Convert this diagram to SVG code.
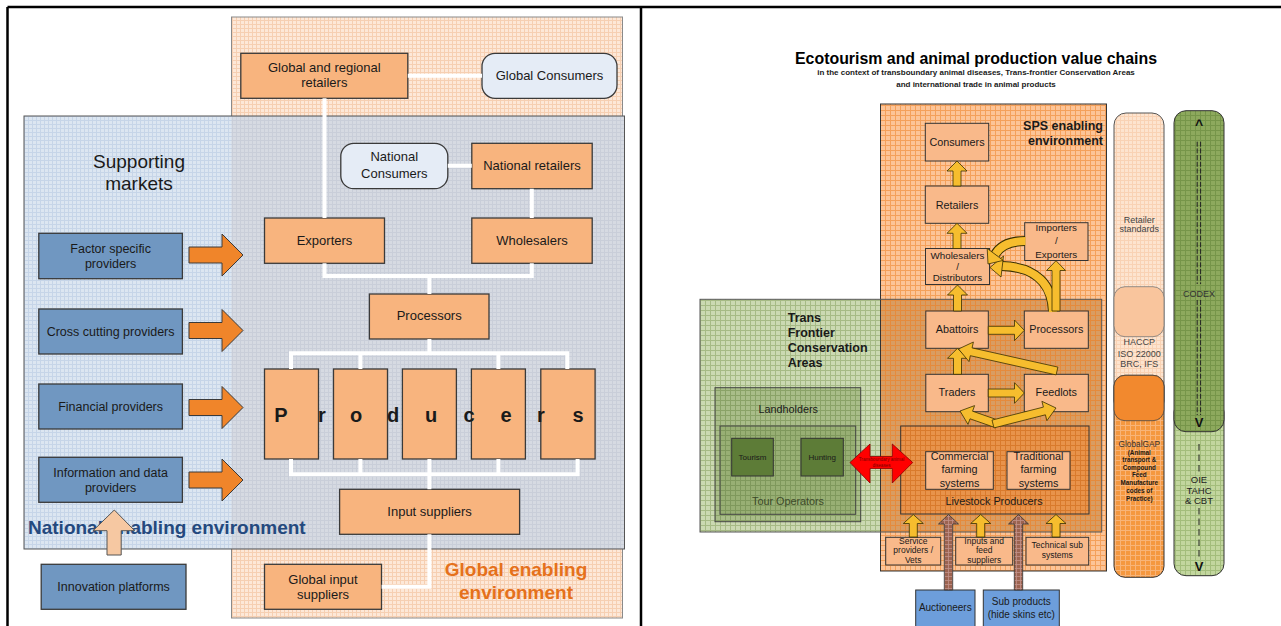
<svg xmlns="http://www.w3.org/2000/svg" width="1281" height="626" viewBox="0 0 1281 626">
<style>
text{font-family:"Liberation Sans",Arial,sans-serif;fill:#1a1a1a}
.c{text-anchor:middle}
.t13{font-size:13px;text-anchor:middle}
.tb{font-size:12.5px;text-anchor:middle}
.obox{fill:#f8b47e;stroke:#3a3a3a;stroke-width:1.3}
.bbox{fill:#7097c1;stroke:#3a3a3a;stroke-width:1.3}
.cbox{fill:#e5ecf6;stroke:#3a3a3a;stroke-width:1.3}
.wl{stroke:#fff;stroke-width:4;fill:none}
.oarr{fill:#f0852a;stroke:#3a3a3a;stroke-width:1}
.rbox{fill:#f9b98a;stroke:#333;stroke-width:1}
.r11{font-size:10.8px;text-anchor:middle}
.r10{font-size:9.8px;text-anchor:middle}
.r8{font-size:8.5px;text-anchor:middle}
.yarr{fill:#f6bd2e;stroke:#3a3000;stroke-width:0.8}
.ycb{fill:none;stroke:#3a3000;stroke-width:10}
.ycf{fill:none;stroke:#f6bd2e;stroke-width:8}
.barr{fill:url(#pBrown);stroke:#333;stroke-width:0.8}
.bold{font-weight:bold}
.col{font-size:9px;text-anchor:middle;fill:#444}
.frame{stroke:#000;stroke-width:2.5;fill:none}
</style>
<defs>
<pattern id="pPeach" width="4" height="4" patternUnits="userSpaceOnUse"><rect width="4" height="4" fill="#fde8d8"/><path d="M0 .5H4M.5 0V4" stroke="#f6cfb2" stroke-width="1"/></pattern>
<pattern id="pBlue" width="4" height="4" patternUnits="userSpaceOnUse"><rect width="4" height="4" fill="#dce6f1"/><path d="M0 .5H4M.5 0V4" stroke="#c6d5e8" stroke-width="1"/></pattern>
<pattern id="pOver" width="4" height="4" patternUnits="userSpaceOnUse"><rect width="4" height="4" fill="#d6dae2"/><path d="M0 .5H4M.5 0V4" stroke="#c9ced9" stroke-width="1"/></pattern>
<pattern id="pSps" width="5" height="5" patternUnits="userSpaceOnUse"><rect width="5" height="5" fill="#fcc497"/><path d="M0 .5H5M.5 0V5" stroke="#f4a05a" stroke-width="1"/></pattern>
<pattern id="pTf" width="5" height="5" patternUnits="userSpaceOnUse"><rect width="5" height="5" fill="#cbd9b2"/><path d="M0 .5H5M.5 0V5" stroke="#a6ba85" stroke-width="1"/></pattern>
<pattern id="pTfo" width="5" height="5" patternUnits="userSpaceOnUse"><rect width="5" height="5" fill="#d99d62"/><path d="M0 .5H5M.5 0V5" stroke="#e58b3c" stroke-width="1"/></pattern>
<pattern id="pLand" width="5" height="5" patternUnits="userSpaceOnUse"><rect width="5" height="5" fill="#a9bd89"/><path d="M0 .5H5M.5 0V5" stroke="#8aa267" stroke-width="1"/></pattern>
<pattern id="pTour" width="5" height="5" patternUnits="userSpaceOnUse"><rect width="5" height="5" fill="#98af74"/><path d="M0 .5H5M.5 0V5" stroke="#7f985c" stroke-width="1"/></pattern>
<pattern id="pLive" width="5" height="5" patternUnits="userSpaceOnUse"><rect width="5" height="5" fill="#e8934b"/><path d="M0 .5H5M.5 0V5" stroke="#d97a2c" stroke-width="1"/></pattern>
<pattern id="pRet" width="4" height="4" patternUnits="userSpaceOnUse"><rect width="4" height="4" fill="#fde4cf"/><path d="M0 .5H4M.5 0V4" stroke="#f9d2b4" stroke-width="1"/></pattern>
<pattern id="pGap" width="5" height="5" patternUnits="userSpaceOnUse"><rect width="5" height="5" fill="#f5983f"/><path d="M0 .5H5M.5 0V5" stroke="#f8b478" stroke-width="1"/></pattern>
<pattern id="pCodex" width="5" height="5" patternUnits="userSpaceOnUse"><rect width="5" height="5" fill="#8da95d"/><path d="M0 .5H5M.5 0V5" stroke="#769549" stroke-width="1"/></pattern>
<pattern id="pOie" width="5" height="5" patternUnits="userSpaceOnUse"><rect width="5" height="5" fill="#c2d69e"/><path d="M0 .5H5M.5 0V5" stroke="#a3bd7b" stroke-width="1"/></pattern>
<pattern id="pBrown" width="4" height="4" patternUnits="userSpaceOnUse"><rect width="4" height="4" fill="#9c6350"/><path d="M0 .5H4M.5 0V4" stroke="#c2928a" stroke-width="0.8"/></pattern>
</defs>

<g id="frame">
<path class="frame" d="M7.5 7H1281M7.5 7V626M641 7V626"/>
</g>

<!-- LEFT PANEL -->
<g id="global-enabling-environment">
<rect x="231.5" y="17" width="391" height="601" fill="url(#pPeach)" stroke="#8a8a8a" stroke-width="1"/>
<text x="516" y="576" class="c bold" style="font-size:19px;fill:#e5711b">Global enabling</text>
<text x="516" y="598.5" class="c bold" style="font-size:19px;fill:#e5711b">environment</text>
</g>
<g id="national-enabling-environment">
<rect x="24" y="116" width="600.5" height="433" fill="url(#pBlue)"/>
<rect x="231.5" y="116" width="393" height="433" fill="url(#pOver)"/>
<rect x="24" y="116" width="600.5" height="433" fill="none" stroke="#555" stroke-width="1"/>
<text x="28" y="533.5" class="bold" style="font-size:19px;fill:#24497e">National enabling environment</text>
</g>
<g id="supporting-markets">
<text x="139" y="167.8" class="c" style="font-size:19px">Supporting</text>
<text x="139" y="190" class="c" style="font-size:19px">markets</text>
</g>

<g id="global-regional-retailers"><rect class="obox" x="240.8" y="53.3" width="167" height="45"/><text class="t13" x="324.3" y="71.6">Global and regional</text><text class="t13" x="324.3" y="87.3">retailers</text></g>
<g id="global-consumers"><rect class="cbox" x="482" y="53.3" width="135" height="45" rx="13"/><text class="t13" x="549.5" y="80">Global Consumers</text></g>
<g id="national-consumers"><rect class="cbox" x="340.8" y="143.3" width="107" height="45.4" rx="13"/><text class="t13" x="394.3" y="161.3">National</text><text class="t13" x="394.3" y="178">Consumers</text></g>
<g id="national-retailers"><rect class="obox" x="471.8" y="143.3" width="120.4" height="45.4"/><text class="t13" x="532" y="170.3">National retailers</text></g>
<g id="exporters"><rect class="obox" x="264.5" y="218" width="120" height="45.3"/><text class="t13" x="324.5" y="245.3">Exporters</text></g>
<g id="wholesalers"><rect class="obox" x="471.8" y="218" width="120.4" height="45.3"/><text class="t13" x="532" y="245.3">Wholesalers</text></g>
<g id="processors"><rect class="obox" x="369.4" y="294" width="119.6" height="45"/><text class="t13" x="429.2" y="319.6">Processors</text></g>
<g id="producers">
<rect class="obox" x="264.5" y="369" width="54" height="90"/>
<rect class="obox" x="333.5" y="369" width="54" height="90"/>
<rect class="obox" x="402.4" y="369" width="54" height="90"/>
<rect class="obox" x="471.4" y="369" width="54" height="90"/>
<rect class="obox" x="540.8" y="369" width="54.3" height="90"/>
<text class="c bold" style="font-size:20px" x="281 322 356 393 431 469 506 541 578" y="421.5">Producers</text>
</g>
<g id="input-suppliers"><rect class="obox" x="339.6" y="489.3" width="180" height="45"/><text class="t13" x="429.6" y="515.6">Input suppliers</text></g>
<g id="global-input-suppliers"><rect class="obox" x="264.5" y="564.3" width="117" height="45"/><text class="t13" x="323" y="583.9">Global input</text><text class="t13" x="323" y="598.6">suppliers</text></g>

<g id="factor-specific-providers"><rect class="bbox" x="38.8" y="233.3" width="143.6" height="45.4"/><text class="tb" x="110.6" y="252.8">Factor specific</text><text class="tb" x="110.6" y="267.8">providers</text></g>
<g id="cross-cutting-providers"><rect class="bbox" x="38.8" y="309" width="143.6" height="45"/><text class="tb" x="110.6" y="335.5">Cross cutting providers</text></g>
<g id="financial-providers"><rect class="bbox" x="38.8" y="384" width="143.6" height="45"/><text class="tb" x="110.6" y="410.5">Financial providers</text></g>
<g id="information-data-providers"><rect class="bbox" x="38.8" y="457.3" width="143.6" height="45"/><text class="tb" x="110.6" y="476.8">Information and data</text><text class="tb" x="110.6" y="491.5">providers</text></g>
<g id="innovation-platforms"><rect class="bbox" x="41.2" y="564.3" width="144.8" height="45"/><text class="tb" x="113.6" y="590.5">Innovation platforms</text></g>

<!-- RIGHT PANEL -->
<g id="title">
<text x="976" y="64" class="c bold" style="font-size:15.9px;fill:#000">Ecotourism and animal production value chains</text>
<text x="976" y="74.5" class="c bold" style="font-size:8px">in the context of transboundary animal diseases, Trans-frontier Conservation Areas</text>
<text x="976" y="87" class="c bold" style="font-size:8px">and international trade in animal products</text>
</g>

<g id="sps-enabling-environment">
<rect x="880.5" y="104" width="226" height="467" fill="url(#pSps)"/>
</g>
<g id="tfca">
<rect x="700" y="299.3" width="180.5" height="232.7" fill="url(#pTf)"/>
<rect x="880.5" y="299.3" width="221.2" height="232.7" fill="url(#pTfo)"/>
<rect x="880.5" y="104" width="226" height="467" fill="none" stroke="#333" stroke-width="1"/>
<rect x="700" y="299.3" width="401.7" height="232.7" fill="none" stroke="#555" stroke-width="1"/>
<text x="787.7" y="322" class="bold" style="font-size:12.5px">Trans</text>
<text x="787.7" y="337" class="bold" style="font-size:12.5px">Frontier</text>
<text x="787.7" y="352" class="bold" style="font-size:12.5px">Conservation</text>
<text x="787.7" y="367" class="bold" style="font-size:12.5px">Areas</text>
</g>
<g id="sps-label">
<text x="1103" y="129.5" class="bold" style="font-size:12.5px;text-anchor:end">SPS enabling</text>
<text x="1103" y="144.5" class="bold" style="font-size:12.5px;text-anchor:end">environment</text>
</g>

<g id="landholders"><rect x="715" y="387.7" width="145.7" height="134" fill="url(#pLand)" stroke="#444" stroke-width="1"/><text class="r11" x="788.3" y="412.8">Landholders</text></g>
<g id="tour-operators"><rect x="720" y="426" width="135.7" height="88.3" fill="url(#pTour)" stroke="#444" stroke-width="1"/><text class="r11" x="788" y="504.8" style="fill:#3d4a2a">Tour Operators</text></g>
<g id="tourism"><rect x="731.7" y="438.3" width="41.6" height="37.7" fill="#5d7c37" stroke="#333" stroke-width="1"/><text class="c" style="font-size:8px" x="752.5" y="459.5">Tourism</text></g>
<g id="hunting"><rect x="801" y="438.3" width="42.3" height="37.7" fill="#5d7c37" stroke="#333" stroke-width="1"/><text class="c" style="font-size:8px" x="822.2" y="459.5">Hunting</text></g>

<g id="consumers"><rect class="rbox" x="925.3" y="123.3" width="63.4" height="37.7"/><text class="r11" x="957" y="145.8">Consumers</text></g>
<g id="retailers"><rect class="rbox" x="925.3" y="186" width="63.4" height="37.3"/><text class="r11" x="957" y="208.5">Retailers</text></g>
<g id="wholesalers-distributors"><rect class="rbox" x="925.5" y="248.5" width="64" height="36"/><text class="r10" x="957.5" y="258.5">Wholesalers</text><text class="r10" x="957.5" y="269.5">/</text><text class="r10" x="957.5" y="281">Distributors</text></g>
<g id="importers-exporters"><rect class="rbox" x="1024.7" y="222.7" width="63.3" height="37.8"/><text class="r10" x="1056.3" y="231.3">Importers</text><text class="r10" x="1056.3" y="244">/</text><text class="r10" x="1056.3" y="257.5">Exporters</text></g>
<g id="abattoirs"><rect class="rbox" x="925.8" y="311" width="62.5" height="37.3"/><text class="r11" x="957" y="333">Abattoirs</text></g>
<g id="processors-r"><rect class="rbox" x="1024.3" y="311" width="64" height="37.3"/><text class="r11" x="1056.3" y="333">Processors</text></g>
<g id="traders"><rect class="rbox" x="925.8" y="374.3" width="62.5" height="37.4"/><text class="r11" x="957" y="395.5">Traders</text></g>
<g id="feedlots"><rect class="rbox" x="1024.3" y="374.3" width="64" height="37.4"/><text class="r11" x="1056.3" y="395.5">Feedlots</text></g>
<g id="livestock-producers">
<rect x="900.7" y="426" width="188.3" height="88" fill="url(#pLive)" stroke="#333" stroke-width="1"/>
<text class="r11" x="994" y="504.8">Livestock Producers</text>
</g>
<g id="commercial-farming"><rect class="rbox" x="925.7" y="451.7" width="67.6" height="37.6"/><text class="r11" x="959.5" y="459.8">Commercial</text><text class="r11" x="959.5" y="473">farming</text><text class="r11" x="959.5" y="486.5">systems</text></g>
<g id="traditional-farming"><rect class="rbox" x="1007" y="451.7" width="63" height="37.6"/><text class="r11" x="1038.5" y="459.8">Traditional</text><text class="r11" x="1038.5" y="473">farming</text><text class="r11" x="1038.5" y="486.5">systems</text></g>
<g id="service-providers"><rect class="rbox" x="885.7" y="537.3" width="55" height="27.7"/><text class="r8" x="913.2" y="544">Service</text><text class="r8" x="913.2" y="553.3">providers /</text><text class="r8" x="913.2" y="563">Vets</text></g>
<g id="inputs-feed"><rect class="rbox" x="955.7" y="537.3" width="57" height="27.7"/><text class="r8" x="984.2" y="544">Inputs and</text><text class="r8" x="984.2" y="553.3">feed</text><text class="r8" x="984.2" y="563">suppliers</text></g>
<g id="technical-sub"><rect class="rbox" x="1026" y="537.3" width="62.7" height="27.7"/><text class="r8" x="1057.3" y="548">Technical sub</text><text class="r8" x="1057.3" y="558">systems</text></g>
<g id="auctioneers"><rect x="915.7" y="590" width="59.3" height="40" fill="#6d9edb" stroke="#333" stroke-width="1"/><text class="c" style="font-size:10px" x="945.3" y="611.2">Auctioneers</text></g>
<g id="sub-products"><rect x="983.3" y="590" width="76" height="40" fill="#6d9edb" stroke="#333" stroke-width="1"/><text class="c" style="font-size:10px" x="1021.3" y="605.2">Sub products</text><text class="c" style="font-size:10px" x="1021.3" y="617.8">(hide skins etc)</text></g>

<g id="retailer-standards">
<rect x="1114" y="113" width="50" height="300" rx="12" fill="url(#pRet)" stroke="#555" stroke-width="1"/>
<text class="col" x="1139.3" y="222.5">Retailer</text>
<text class="col" x="1139.3" y="232.3">standards</text>
</g>
<g id="haccp">
<rect x="1114" y="286.7" width="50" height="50" rx="11" fill="#f9c59d" stroke="#777" stroke-width="0.8"/>
<text class="col" x="1139.3" y="345">HACCP</text>
<text class="col" x="1139.3" y="356.6">ISO 22000</text>
<text class="col" x="1139.3" y="366.6">BRC, IFS</text>
</g>
<g id="globalgap">
<rect x="1114" y="375.3" width="50" height="202" rx="11" fill="url(#pGap)" stroke="#333" stroke-width="1"/>
<rect x="1114" y="375.3" width="50" height="45.4" rx="11" fill="#f2892e" stroke="#444" stroke-width="0.8"/>
<text x="1139.3" y="447" class="c" style="font-size:8.3px;fill:#333">GlobalGAP</text>
<text x="1139.3" y="455" class="c bold" style="font-size:6.3px">(Animal</text>
<text x="1139.3" y="462.3" class="c bold" style="font-size:6.3px">transport &amp;</text>
<text x="1139.3" y="469.6" class="c bold" style="font-size:6.3px">Compound</text>
<text x="1139.3" y="477.3" class="c bold" style="font-size:6.3px">Feed</text>
<text x="1139.3" y="485" class="c bold" style="font-size:6.3px">Manufacture</text>
<text x="1139.3" y="492.6" class="c bold" style="font-size:6.3px">codes of</text>
<text x="1139.3" y="500.6" class="c bold" style="font-size:6.3px">Practice)</text>
</g>
<g id="oie">
<rect x="1174" y="400" width="50" height="175.7" rx="12" fill="url(#pOie)" stroke="#333" stroke-width="1"/>
<path d="M1199 444V472M1199 508V558" stroke="#222" stroke-width="1" stroke-dasharray="6.5 4" fill="none"/>
<text x="1199" y="483" class="c" style="font-size:9.5px;fill:#222">OIE</text>
<text x="1199" y="493.5" class="c" style="font-size:9.5px;fill:#222">TAHC</text>
<text x="1199" y="504" class="c" style="font-size:9.5px;fill:#222">&amp; CBT</text>
<text x="1199" y="571" class="c bold" style="font-size:13px;fill:#111">V</text>
</g>
<g id="codex">
<rect x="1174" y="110.7" width="50" height="321" rx="12" fill="url(#pCodex)" stroke="#333" stroke-width="1"/>
<path d="M1197.2 141.7V284M1200.6 141.7V284M1197.2 300V415M1200.6 300V415" stroke="#222" stroke-width="1" stroke-dasharray="5 1.7" fill="none"/>
<text x="1199" y="296.5" class="c" style="font-size:9px;fill:#333">CODEX</text>
<text x="1199" y="130" class="c bold" style="font-size:14px;fill:#111">^</text>
<text x="1199" y="427.3" class="c bold" style="font-size:13px;fill:#111">V</text>
</g>

<g id="connectors">
<!-- left white lines -->
<path class="wl" d="M407.8 75.7H482M324.5 98.3V218M447.8 165.7H471.8M531.8 188.7V218"/>
<path class="wl" d="M324.5 263.3V276H531.8V263.3M429.4 276V294"/>
<path class="wl" d="M429.4 339V353.3M291 369V353.3H567.3V369M360.4 353.3V369M498.4 353.3V369"/>
<path class="wl" d="M291 459V474.3H577.6V459M360.4 459V474.3M429.4 459V489.3M498.4 459V474.3"/>
<path class="wl" d="M429.4 534.3V586.7H381.6"/>
<!-- left orange arrows -->
<polygon class="oarr" points="189,247 222,247 222,234 243,255 222,276 222,263 189,263"/>
<polygon class="oarr" points="189,322.5 222,322.5 222,309.5 243,330.5 222,351.5 222,338.5 189,338.5"/>
<polygon class="oarr" points="189,399.5 222,399.5 222,386.5 243,407.5 222,428.5 222,415.5 189,415.5"/>
<polygon class="oarr" points="189,472 222,472 222,459 243,480 222,501 222,488 189,488"/>
<polygon points="107,555 107,530.7 93,530.7 114.3,510 134.7,530.7 121.2,530.7 121.2,555" fill="#f6c8a2" stroke="#555" stroke-width="1"/>
<!-- right yellow arrows -->
<polygon class="yarr" points="953,186 953,171 947,171 957,161 967,171 961,171 961,186"/>
<polygon class="yarr" points="953,248.5 953,233.3 947,233.3 957,223.3 967,233.3 961,233.3 961,248.5"/>
<polygon class="yarr" points="953.5,311 953.5,295 947.5,295 957.5,285 967.5,295 961.5,295 961.5,311"/>
<polygon class="yarr" points="953.5,374.3 953.5,358.3 947.5,358.3 957.5,348.3 967.5,358.3 961.5,358.3 961.5,374.3"/>
<polygon class="yarr" points="988.3,326.3 1014.5,326.3 1014.5,320 1024.3,330.3 1014.5,340.6 1014.5,334.3 988.3,334.3"/>
<polygon class="yarr" points="988.3,389 1014.5,389 1014.5,382.7 1024.3,393 1014.5,403.3 1014.5,397 988.3,397"/>
<polygon class="yarr" points="1057.9,367.1 972.1,347.9 973.4,342 958.5,349 969,361.6 970.3,355.7 1056.1,374.9"/>
<polygon class="yarr" points="998.3,420.2 972.6,411.2 974.6,405.6 960,411 968,424.4 970,418.8 995.7,427.8"/>
<polygon class="yarr" points="994,427.9 1045.4,414.8 1046.9,420.7 1056,408 1041.9,401.3 1043.4,407.1 992,420.1"/>
<!-- curved: processors -> wholesalers -->
<path class="ycb" d="M1053 311C1052 286 1038 267 1002 266"/>
<path class="ycf" d="M1053 312C1052 286 1038 267 1002 266"/>
<polygon class="yarr" points="1003.5,256 990,267.5 1001,277"/>
<!-- processors -> importers -->
<polygon class="yarr" points="1052,311 1052,270.5 1046.5,270.5 1056,260.7 1065.5,270.5 1060,270.5 1060,311"/>
<!-- curved: importers -> wholesalers -->
<path class="ycb" d="M1025 241C1010 241 1000 246 995.2 254.4"/>
<path class="ycf" d="M1025.5 241C1010 241 1000 246 995.2 254.4"/>
<polygon class="yarr" points="1003.2,260.4 988,264 987.2,248.4"/>
<!-- bottom arrows -->
<polygon class="yarr" points="909.3,537 909.3,523.5 903.3,523.5 913.3,514.5 923.3,523.5 917.3,523.5 917.3,537"/>
<polygon class="yarr" points="976.7,537 976.7,523.5 970.7,523.5 980.7,514.5 990.7,523.5 984.7,523.5 984.7,537"/>
<polygon class="yarr" points="1052,537 1052,523.5 1046,523.5 1056,514.5 1066,523.5 1060,523.5 1060,537"/>
<polygon class="barr" points="944.3,590 944.3,524 938.5,524 948.5,514.5 958.5,524 952.7,524 952.7,590"/>
<polygon class="barr" points="1014.3,590 1014.3,524 1008.5,524 1018.5,514.5 1028.5,524 1022.7,524 1022.7,590"/>
<!-- red double arrow -->
<polygon points="850,462.5 870,444 870,456.5 892.3,456.5 892.3,444 912.7,462.5 892.3,483 892.3,468.5 870,468.5 870,483" fill="#ff0000" stroke="#8b0000" stroke-width="0.8"/>
<text x="881.5" y="461" class="c" style="font-size:4.6px;fill:#7a0000">Transboundary animal</text>
<text x="881.5" y="466.5" class="c" style="font-size:4.6px;fill:#7a0000">diseases</text>
</g>
</svg>
